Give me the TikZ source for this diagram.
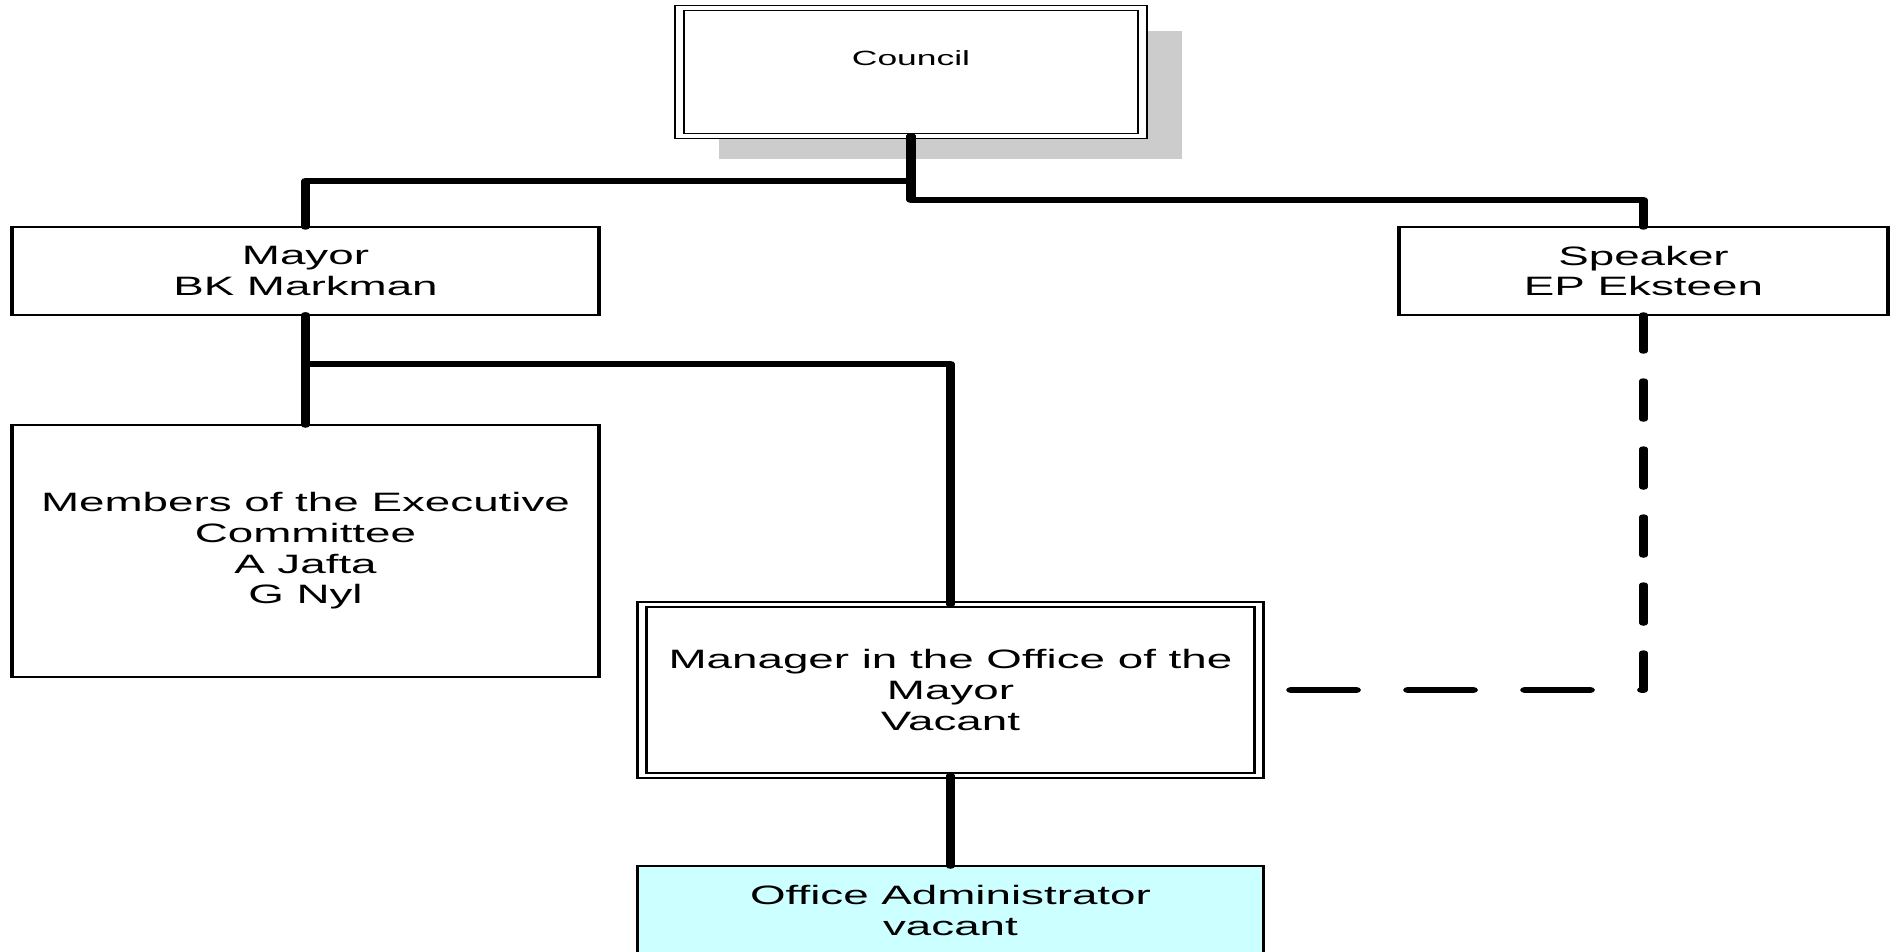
\documentclass[tikz,border=0pt]{standalone}
\usepackage{fontspec}
\setmainfont{Liberation Sans}
\usetikzlibrary{positioning, shadows}
\definecolor{admincyan}{HTML}{CCFFFF}
\definecolor{shadowgray}{HTML}{CCCCCC}

\begin{document}
\begin{tikzpicture}
\begin{scope}[transform canvas={xscale=1.72}, x=0.2907pt, y=-0.5pt,
    box/.style={draw, fill=white, line width=1pt, align=center, inner sep=0pt, outer sep=0pt, font=\fontsize{13.3}{15.35}\selectfont},
    dblbox/.style={box, line width=0.8pt, double=white, double distance=1.8pt},
    wh/.style 2 args={minimum width={#1*0.2907pt}, minimum height={#2*0.5pt}},
    link/.style={line width=2.75pt, line cap=round, line join=round},
    dashlink/.style={link, dash pattern=on 19pt off 15pt, dash phase=1pt}]
    \node[dblbox, wh={463}{128}, font=\fontsize{10.3}{12}\selectfont, text depth=14pt, general shadow={fill=shadowgray, shadow xshift=11.6pt, shadow yshift=-11.5pt}] (council) at (911,72) {Council};
    \node[box, wh={587}{88}] (mayor) at (305.5,271) {Mayor\\BK Markman};
    \node[box, wh={489}{88}] (speaker) at (1643.5,271) {Speaker\\EP Eksteen};
    \node[box, wh={587}{252}, below=55pt of mayor] (members) {Members of the Executive\\Committee\\A Jafta\\G Nyl};
    \node[dblbox, wh={617}{171}] (manager) at (950.5,690) {Manager in the Office of the\\Mayor\\Vacant};
    \node[box, fill=admincyan, wh={626}{89}, below=45.25pt of manager] (admin) {Office Administrator\\vacant};

    \draw[link] (council.south) -- ++(0,45) -| (mayor.north);
    \draw[link] (council.south) -- ++(0,64) -| (speaker.north);
    \draw[link] (mayor.south) -- (members.north);
    \draw[link] (mayor.south) -- ++(0,49) -| (manager.north);
    \draw[link] (manager.south) -- (admin.north);
    \draw[dashlink] (speaker.south) |- (manager.east);
\end{scope}
\pgfresetboundingbox
\useasboundingbox (0,0) rectangle (945pt,-476pt);
\end{tikzpicture}
\end{document}
